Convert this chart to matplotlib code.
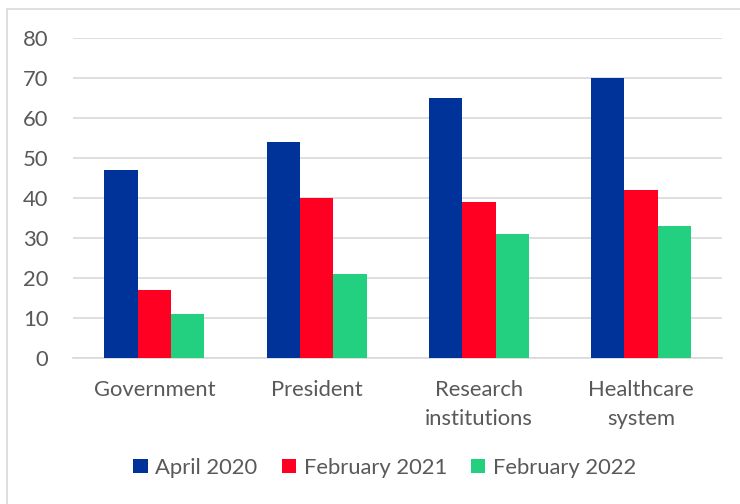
import numpy as np
import matplotlib
matplotlib.use("Agg")
import matplotlib.pyplot as plt
from matplotlib.patches import Rectangle

categories = ["Government", "President", "Research\ninstitutions", "Healthcare\nsystem"]
series_names = ["April 2020", "February 2021", "February 2022"]
april_2020 = [47, 54, 65, 70]
february_2021 = [17, 40, 39, 42]
february_2022 = [11, 21, 31, 33]
colors = ["#003399", "#FF0022", "#22D07F"]
yticks = [0, 10, 20, 30, 40, 50, 60, 70, 80]

plt.rcParams["font.family"] = ["Lato", "DejaVu Sans"]
TEXT = "#595959"
FS = 15.8

fig = plt.figure(figsize=(7.4, 5.04), dpi=100)
ax = fig.add_axes([0.099, 0.290, 0.877, 0.635])

# light frame around the chart area
fig.patches.append(Rectangle((0.009, -0.01), 1.0, 0.993, transform=fig.transFigure,
                             fill=False, edgecolor="#d9d9d9", linewidth=1.2))

x = np.arange(len(categories))
width = 0.205
for k, (vals, name) in enumerate(zip([april_2020, february_2021, february_2022], series_names)):
    ax.bar(x + (k - 1) * width, vals, width, color=colors[k], label=name, zorder=3)

ax.set_xlim(-0.5, len(categories) - 0.5)
ax.set_ylim(0, 80)
ax.set_yticks(yticks)
ax.yaxis.grid(True, color="#d9d9d9", linewidth=1.2, zorder=0)
ax.set_xticks(x)
ax.set_xticklabels(categories, linespacing=1.55)
for s in ["top", "right", "left"]:
    ax.spines[s].set_visible(False)
ax.spines["bottom"].set_color("#d9d9d9")
ax.spines["bottom"].set_linewidth(1.2)
ax.tick_params(axis="both", length=0, labelsize=FS, colors=TEXT)
ax.tick_params(axis="x", pad=16)
ax.tick_params(axis="y", pad=18)

ax.legend(loc="center", bbox_to_anchor=(0.52, 0.072), bbox_transform=fig.transFigure,
          ncol=3, frameon=False, fontsize=FS, labelcolor=TEXT,
          handlelength=0.65, handleheight=0.65, handletextpad=0.35, columnspacing=1.1)

fig.savefig("out.png", dpi=100)
